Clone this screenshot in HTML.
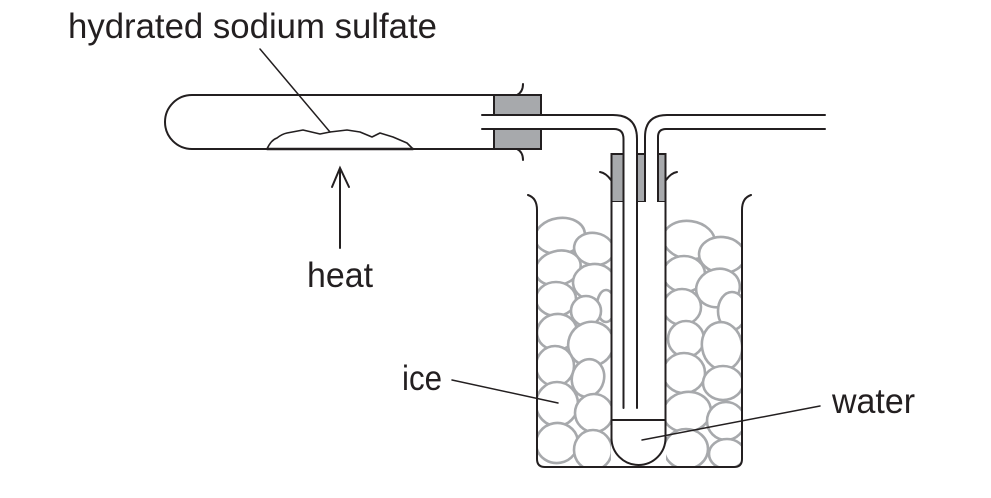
<!DOCTYPE html>
<html><head><meta charset="utf-8"><style>
html,body{margin:0;padding:0;background:#fff;}
svg{display:block;}
text{font-family:"Liberation Sans",sans-serif;font-size:35px;fill:#231f20;}
</style></head><body>
<svg width="991" height="498" viewBox="0 0 991 498" xmlns="http://www.w3.org/2000/svg">
<defs>
<clipPath id="cl"><rect x="538" y="205" width="73" height="262"/></clipPath>
<clipPath id="cr"><rect x="666" y="205" width="75" height="262"/></clipPath>
</defs>

<!-- labels -->
<text x="68" y="38" textLength="369" lengthAdjust="spacingAndGlyphs">hydrated sodium sulfate</text>
<text x="307" y="287" textLength="66" lengthAdjust="spacingAndGlyphs">heat</text>
<text x="402" y="390" textLength="40" lengthAdjust="spacingAndGlyphs">ice</text>
<text x="832" y="413" textLength="83" lengthAdjust="spacingAndGlyphs">water</text>

<!-- ice -->
<g fill="#fff" stroke="#a7a9ac" stroke-width="2.6">
<g clip-path="url(#cl)">
<ellipse cx="560" cy="236" rx="25" ry="18" transform="rotate(-8 560 236)"/>
<ellipse cx="594" cy="249" rx="20" ry="16" transform="rotate(10 594 249)"/>
<ellipse cx="558" cy="268" rx="23" ry="17" transform="rotate(-15 558 268)"/>
<ellipse cx="594" cy="282" rx="21" ry="18" transform="rotate(-5 594 282)"/>
<ellipse cx="556" cy="299" rx="20" ry="17"/>
<ellipse cx="606" cy="306" rx="9" ry="16"/>
<ellipse cx="586" cy="311" rx="15" ry="15"/>
<ellipse cx="557" cy="332" rx="20" ry="18" transform="rotate(-10 557 332)"/>
<ellipse cx="591" cy="344" rx="23" ry="22" transform="rotate(-25 591 344)"/>
<ellipse cx="555" cy="366" rx="19" ry="20"/>
<ellipse cx="588" cy="378" rx="16" ry="19" transform="rotate(15 588 378)"/>
<ellipse cx="557" cy="404" rx="21" ry="22"/>
<ellipse cx="594" cy="413" rx="19" ry="19"/>
<ellipse cx="557" cy="443" rx="21" ry="20" transform="rotate(-10 557 443)"/>
<ellipse cx="593" cy="450" rx="19" ry="20"/>
</g>
<g clip-path="url(#cr)">
<ellipse cx="689" cy="240" rx="26" ry="19" transform="rotate(8 689 240)"/>
<ellipse cx="722" cy="255" rx="23" ry="18" transform="rotate(5 722 255)"/>
<ellipse cx="684" cy="274" rx="21" ry="18"/>
<ellipse cx="718" cy="288" rx="22" ry="19" transform="rotate(-15 718 288)"/>
<ellipse cx="682" cy="307" rx="19" ry="18"/>
<ellipse cx="732" cy="311" rx="14" ry="19"/>
<ellipse cx="686" cy="339" rx="18" ry="18"/>
<ellipse cx="722" cy="346" rx="20" ry="24" transform="rotate(-10 722 346)"/>
<ellipse cx="684" cy="373" rx="21" ry="20"/>
<ellipse cx="723" cy="383" rx="20" ry="17"/>
<ellipse cx="687" cy="412" rx="24" ry="20" transform="rotate(-10 687 412)"/>
<ellipse cx="726" cy="421" rx="19" ry="19"/>
<ellipse cx="686" cy="449" rx="22" ry="20"/>
<ellipse cx="727" cy="454" rx="18" ry="15"/>
</g>
</g>

<!-- big stopper -->
<rect x="494" y="95" width="47" height="54" fill="#a7a9ac" stroke="#231f20" stroke-width="2"/>
<rect x="482" y="115" width="60" height="14" fill="#fff"/>

<!-- small stopper -->
<rect x="611.5" y="154" width="54" height="48" fill="#a7a9ac" stroke="#231f20" stroke-width="2"/>
<rect x="623.5" y="150" width="13" height="53" fill="#fff"/>
<rect x="645" y="150" width="13" height="53" fill="#fff"/>

<g fill="none" stroke="#231f20" stroke-width="2" stroke-linecap="round" stroke-linejoin="round">
<!-- test tube -->
<path d="M494 95 L192 95 A27 27 0 0 0 192 149 L494 149"/>
<!-- solid lump -->
<path d="M267 149 Q271 140 277 138 Q282 134 287 133 L303 130 L320 134 L330 132 L347 130 L360 132 L372 137 L380 133 L393 137 L407 143 L413 149 Z" fill="#fff" stroke-width="1.6"/>
<line x1="267" y1="149" x2="413" y2="149" stroke-width="2.4"/>
<!-- big stopper curls -->
<path d="M517 95 Q523 92 523 84"/>
<path d="M517 149 Q523 152 523 160"/>
<!-- delivery tubes -->
<path d="M482 115 L613 115 Q637 115 637 139 L637 408"/>
<path d="M482 129 L614 129 Q623.5 129 623.5 139 L623.5 408"/>
<path d="M825 115 L667 115 Q645 115 645 137 L645 217"/>
<path d="M825 129 L666 129 Q658 129 658 137 L658 217"/>
<!-- small stopper curls -->
<path d="M611 180 Q606 173 600 172"/>
<path d="M666 180 Q671 173 677 172"/>
<!-- collecting tube -->
<path d="M611.5 202 L611.5 438 A27 27 0 0 0 665.5 438 L665.5 202" fill="#fff"/>
<line x1="611.5" y1="420" x2="665.5" y2="420"/>
<path d="M623.5 200 L623.5 408 M637 200 L637 408"/>
<!-- beaker -->
<path d="M528 195 Q537 198 537 210 L537 459 Q537 467 545 467 L734 467 Q742 467 742 459 L742 210 Q742 198 751 195"/>
</g>

<g fill="none" stroke="#231f20" stroke-linecap="round">
<!-- leader lines -->
<line x1="260" y1="49" x2="330" y2="132" stroke-width="1.5"/>
<line x1="452" y1="380" x2="558" y2="403" stroke-width="1.5"/>
<line x1="642" y1="440" x2="820" y2="406" stroke-width="1.5"/>
<!-- heat arrow -->
<line x1="340" y1="170" x2="340" y2="248" stroke-width="2"/>
<polyline points="332,187 340,168 349,187" stroke-width="2" stroke-linejoin="miter"/>
</g>
</svg>
</body></html>
